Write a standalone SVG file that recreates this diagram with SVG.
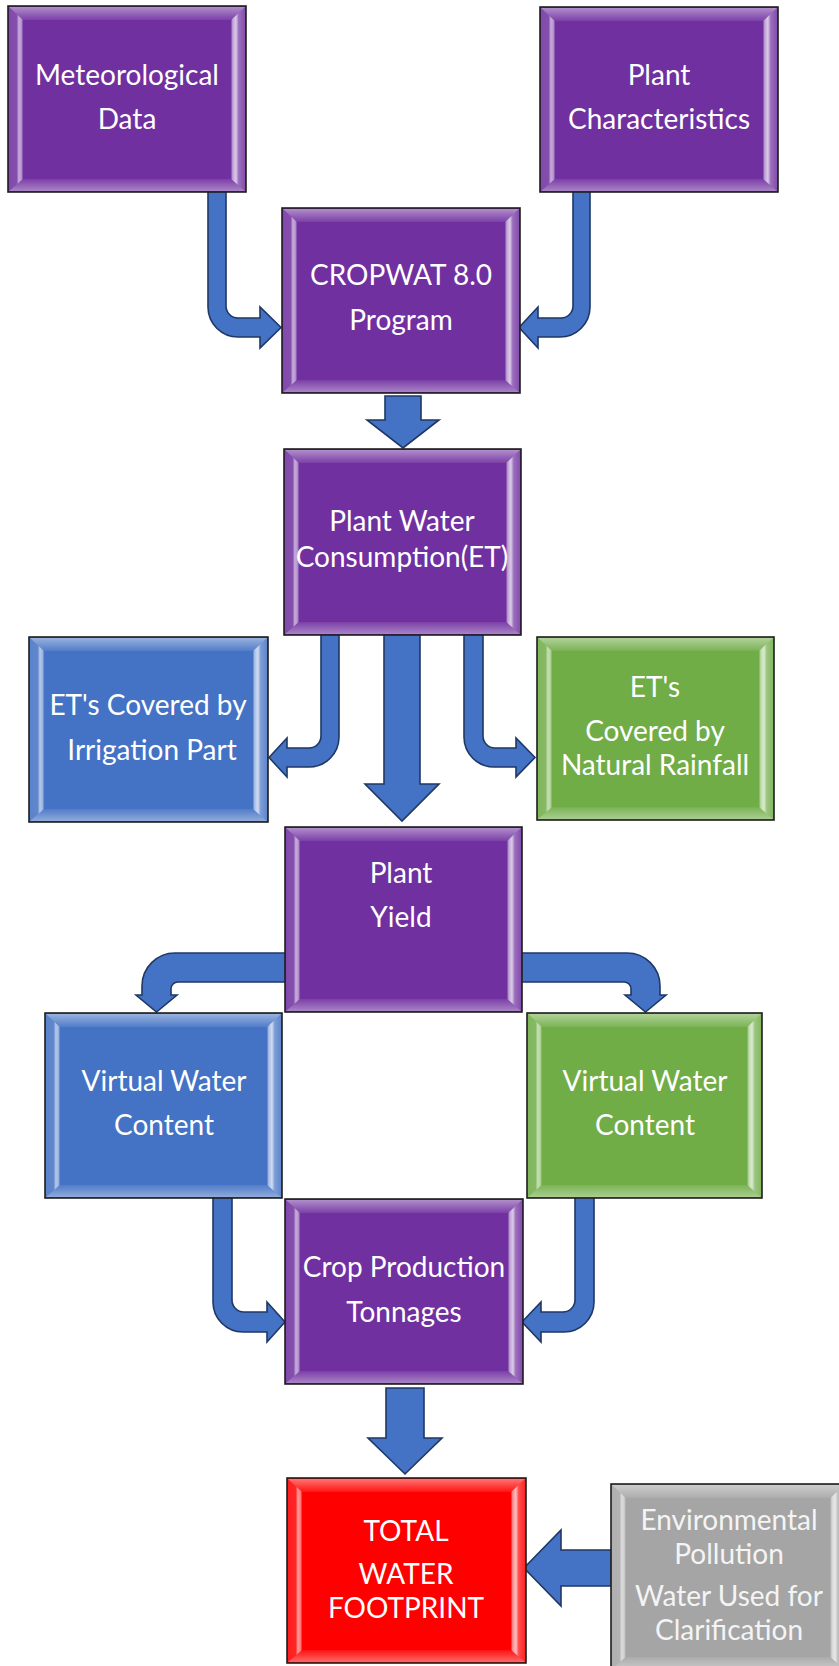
<svg xmlns="http://www.w3.org/2000/svg" xmlns:xlink="http://www.w3.org/1999/xlink" width="839" height="1666" viewBox="0 0 839 1666">
<style>
.box{stroke:#1e1e1e;stroke-width:1.6}
.purple{fill:#7030A0}
.blue{fill:#4472C4}
.green{fill:#70AD47}
.red{fill:#FF0000}
.gray{fill:#A5A5A5}
.arrow{fill:#4472C4;stroke:#1F3864;stroke-width:1.6;stroke-linejoin:miter}
text{font-family:Lato,"Open Sans","Liberation Sans",sans-serif;font-size:28px;fill:#FFFFFF;text-anchor:middle}
.gtext{fill:#F4F4F4}
</style>
<defs>
<linearGradient id="gTop" x1="0" y1="0" x2="0" y2="1">
<stop offset="0" stop-color="#fff" stop-opacity="0.45"/>
<stop offset="1" stop-color="#fff" stop-opacity="0.08"/>
</linearGradient>
<linearGradient id="gBot" x1="0" y1="0" x2="0" y2="1">
<stop offset="0" stop-color="#fff" stop-opacity="0.08"/>
<stop offset="1" stop-color="#fff" stop-opacity="0.4"/>
</linearGradient>
<linearGradient id="gLeft" x1="0" y1="0" x2="1" y2="0">
<stop offset="0" stop-color="#fff" stop-opacity="0.12"/>
<stop offset="0.55" stop-color="#fff" stop-opacity="0.15"/>
<stop offset="0.7" stop-color="#fff" stop-opacity="0.6"/>
<stop offset="0.88" stop-color="#fff" stop-opacity="0.5"/>
<stop offset="1" stop-color="#fff" stop-opacity="0.1"/>
</linearGradient>
<linearGradient id="gRight" x1="1" y1="0" x2="0" y2="0">
<stop offset="0" stop-color="#fff" stop-opacity="0.15"/>
<stop offset="0.45" stop-color="#fff" stop-opacity="0.3"/>
<stop offset="0.65" stop-color="#fff" stop-opacity="0.75"/>
<stop offset="0.88" stop-color="#fff" stop-opacity="0.55"/>
<stop offset="1" stop-color="#fff" stop-opacity="0.1"/>
</linearGradient>
<symbol id="bevel" viewBox="0 0 238 186" preserveAspectRatio="none">
<polygon points="1,1 237,1 223,14 15,14" fill="url(#gTop)"/>
<polygon points="1,185 237,185 223,173 15,173" fill="url(#gBot)"/>
<polygon points="1,1 15,14 15,173 1,185" fill="url(#gLeft)"/>
<polygon points="237,1 223,14 223,173 237,185" fill="url(#gRight)"/>
</symbol>
</defs>
<rect width="839" height="1666" fill="#FFFFFF"/>

<g id="connectors">
<path class="arrow" d="M208,190 L226,190 L226,306 A12,12 0 0 0 238,318 L260,318 L260,307 L281,327.5 L260,348 L260,337 L238,337 A30,30 0 0 1 208,307 Z"/>
<path class="arrow" d="M573,190 L590,190 L590,307 A30,30 0 0 1 560,337 L538,337 L538,348 L519,327.5 L538,307 L538,318 L561,318 A12,12 0 0 0 573,306 Z"/>
<path class="arrow" d="M385,396 L421,396 L421,420 L439,420 L403,448 L367,420 L385,420 Z"/>
<path class="arrow" d="M321,633 L339,633 L339,737 A30,30 0 0 1 309,767 L287,767 L287,777 L269,757.5 L287,738 L287,748 L309,748 A12,12 0 0 0 321,736 Z"/>
<path class="arrow" d="M464,633 L483,633 L483,736 A12,12 0 0 0 495,748 L516,748 L516,738 L535,757.5 L516,777 L516,767 L494,767 A30,30 0 0 1 464,737 Z"/>
<path class="arrow" d="M384,633 L420,633 L420,784 L439,784 L402,821 L365,784 L384,784 Z"/>
<path class="arrow" d="M287,953 L175,953 A33,33 0 0 0 142,986 L142,995 L136,995 L156.5,1012 L177,995 L171,995 L171,989 A7,7 0 0 1 178,982 L287,982 Z"/>
<path class="arrow" d="M520,953 L627,953 A33,33 0 0 1 660,986 L660,995 L666,995 L645.5,1012 L625,995 L631,995 L631,989 A7,7 0 0 0 624,982 L520,982 Z"/>
<path class="arrow" d="M213,1196 L232,1196 L232,1300 A12,12 0 0 0 244,1312 L267,1312 L267,1302 L285,1322 L267,1342 L267,1332 L243,1332 A30,30 0 0 1 213,1302 Z"/>
<path class="arrow" d="M575,1196 L594,1196 L594,1302 A30,30 0 0 1 564,1332 L541,1332 L541,1342 L522,1322 L541,1302 L541,1312 L563,1312 A12,12 0 0 0 575,1300 Z"/>
<path class="arrow" d="M386,1388 L424,1388 L424,1438 L442,1438 L405,1474 L368,1438 L386,1438 Z"/>
<path class="arrow" d="M613,1550 L561,1550 L561,1530 L524,1568 L561,1606 L561,1586 L613,1586 Z"/>
</g>

<g id="meteorological">
<rect class="box purple" x="8" y="6" width="238" height="186"/>
<use xlink:href="#bevel" x="8" y="6" width="238" height="186"/>
<text x="127" y="85">Meteorological</text>
<text x="127" y="129">Data</text>
</g>
<g id="plant-characteristics">
<rect class="box purple" x="540" y="7" width="238" height="185"/>
<use xlink:href="#bevel" x="540" y="7" width="238" height="185"/>
<text x="659" y="85">Plant</text>
<text x="659" y="129">Characteristics</text>
</g>
<g id="cropwat">
<rect class="box purple" x="282" y="208" width="238" height="185"/>
<use xlink:href="#bevel" x="282" y="208" width="238" height="185"/>
<text x="401" y="285">CROPWAT 8.0</text>
<text x="401" y="330">Program</text>
</g>
<g id="plant-water-consumption">
<rect class="box purple" x="284" y="449" width="237" height="186"/>
<use xlink:href="#bevel" x="284" y="449" width="237" height="186"/>
<text x="402" y="531">Plant Water</text>
<text x="402" y="567">Consumption(ET)</text>
</g>
<g id="irrigation">
<rect class="box blue" x="29" y="637" width="239" height="185"/>
<use xlink:href="#bevel" x="29" y="637" width="239" height="185"/>
<text x="148" y="715">ET's Covered by</text>
<text x="152" y="760">Irrigation Part</text>
</g>
<g id="natural-rainfall">
<rect class="box green" x="537" y="637" width="237" height="183"/>
<use xlink:href="#bevel" x="537" y="637" width="237" height="183"/>
<text x="655" y="697">ET's</text>
<text x="655" y="741">Covered by</text>
<text x="655" y="775">Natural Rainfall</text>
</g>
<g id="plant-yield">
<rect class="box purple" x="285" y="827" width="237" height="185"/>
<use xlink:href="#bevel" x="285" y="827" width="237" height="185"/>
<text x="401" y="883">Plant</text>
<text x="401" y="927">Yield</text>
</g>
<g id="virtual-water-blue">
<rect class="box blue" x="45" y="1013" width="237" height="185"/>
<use xlink:href="#bevel" x="45" y="1013" width="237" height="185"/>
<text x="164" y="1091">Virtual Water</text>
<text x="164" y="1135">Content</text>
</g>
<g id="virtual-water-green">
<rect class="box green" x="527" y="1013" width="235" height="185"/>
<use xlink:href="#bevel" x="527" y="1013" width="235" height="185"/>
<text x="645" y="1091">Virtual Water</text>
<text x="645" y="1135">Content</text>
</g>
<g id="crop-production">
<rect class="box purple" x="285" y="1199" width="238" height="185"/>
<use xlink:href="#bevel" x="285" y="1199" width="238" height="185"/>
<text x="404" y="1277">Crop Production</text>
<text x="404" y="1322">Tonnages</text>
</g>
<g id="total-water-footprint">
<rect class="box red" x="287" y="1478" width="239" height="185"/>
<use xlink:href="#bevel" x="287" y="1478" width="239" height="185"/>
<text x="406" y="1541">TOTAL</text>
<text x="406" y="1584">WATER</text>
<text x="406" y="1618">FOOTPRINT</text>
</g>
<g id="environmental-pollution">
<rect class="box gray" x="611" y="1484" width="234" height="186"/>
<use xlink:href="#bevel" x="611" y="1484" width="234" height="186"/>
<text class="gtext" x="729" y="1530">Environmental</text>
<text class="gtext" x="729" y="1564">Pollution</text>
<text class="gtext" x="729" y="1606">Water Used for</text>
<text class="gtext" x="729" y="1640">Clarification</text>
</g>
</svg>
